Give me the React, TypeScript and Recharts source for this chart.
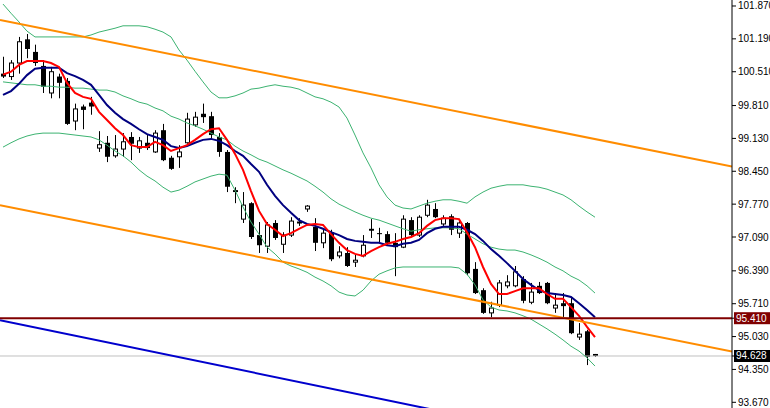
import React from 'react';
import { ComposedChart, Bar, Line, XAxis, YAxis, ReferenceLine } from 'recharts';

const opens = [100.47,100.41,100.69,101.18,100.92,100.63,100.07,100.41,100.32,99.49,
99.79,99.87,98.93,99.04,98.77,98.91,99.16,98.93,99.04,98.85,
99.30,98.73,98.75,99.04,99.41,99.64,99.59,99.16,98.85,98.06,
97.46,97.79,97.13,96.90,97.38,96.94,97.13,97.38,97.67,97.30,
96.97,97.19,96.70,96.76,96.57,96.70,97.26,97.17,97.15,96.97,
96.88,97.44,97.13,97.54,97.67,97.36,97.52,97.17,97.38,96.43,
95.99,95.52,95.68,96.08,96.08,96.22,95.74,96.08,96.14,95.62,
95.72,95.72,95.02,95.14,94.67];

const highs = [100.82,100.75,101.23,101.29,101.07,100.75,100.61,100.47,100.38,99.85,
99.83,99.99,99.28,99.18,99.20,99.24,99.26,99.16,99.20,99.30,
99.43,98.77,98.99,99.66,99.68,99.85,99.68,99.24,98.89,98.12,
98.02,97.81,97.40,97.40,97.44,97.19,97.50,97.48,97.75,97.48,
97.24,97.24,96.90,96.88,96.72,97.13,97.46,97.28,97.21,97.17,
97.54,97.50,97.54,97.86,97.79,97.54,97.56,97.42,97.40,96.57,
96.03,95.75,96.20,96.30,96.49,96.28,96.14,96.16,96.16,95.93,
95.93,95.83,95.31,95.17,94.67];

const lows = [100.38,100.34,100.47,100.79,100.63,100.07,99.96,99.96,99.41,99.30,
99.32,99.62,98.85,98.64,98.73,98.75,98.68,98.83,98.89,98.83,
98.66,98.48,98.52,99.02,99.37,99.45,99.10,98.75,98.02,97.79,
97.38,97.05,96.76,96.76,97.03,96.76,97.09,97.32,97.61,96.80,
96.86,96.59,96.65,96.47,96.47,96.67,97.07,96.97,96.92,96.28,
96.86,97.09,97.09,97.50,97.48,97.32,97.13,97.07,96.30,95.91,
95.50,95.43,95.64,96.03,96.05,95.72,95.70,95.91,95.70,95.52,
95.41,95.08,94.96,94.44,94.61];

const closes = [100.41,100.69,101.13,100.98,100.69,100.20,100.51,100.28,99.43,99.74,
99.72,99.79,99.00,98.75,98.91,99.06,99.02,99.08,98.93,99.24,
98.68,98.50,98.85,99.53,99.57,99.57,99.20,98.85,98.13,98.02,
97.75,97.09,96.92,97.34,97.07,97.13,97.42,97.40,97.73,96.97,
97.17,96.63,96.78,96.49,96.61,96.92,97.22,97.15,96.97,96.88,
97.46,97.13,97.50,97.75,97.50,97.48,97.24,97.38,96.34,95.93,
95.52,95.62,96.14,96.16,96.37,95.77,95.95,95.93,95.72,95.68,
95.66,95.10,95.08,94.61,94.628];

const maFast = [100.45,100.51,100.65,100.73,100.73,100.73,100.69,100.61,100.28,100.07,
99.99,99.95,99.68,99.51,99.34,99.20,98.99,98.95,98.95,99.06,
98.99,98.87,98.93,98.99,99.10,99.22,99.32,99.34,99.10,98.81,
98.48,98.04,97.63,97.36,97.24,97.11,97.17,97.26,97.34,97.36,
97.34,97.15,96.97,96.82,96.74,96.70,96.80,96.88,96.95,96.99,
97.05,97.09,97.17,97.32,97.44,97.48,97.48,97.46,97.19,96.88,
96.47,96.12,95.91,95.91,95.97,96.03,96.03,96.03,95.91,95.81,
95.81,95.64,95.46,95.23,95.02];

const maSlow = [100.03,100.11,100.26,100.44,100.57,100.59,100.59,100.59,100.48,100.42,
100.34,100.24,100.03,99.82,99.66,99.53,99.43,99.32,99.22,99.16,
99.10,98.97,98.93,98.97,99.04,99.10,99.12,99.08,98.99,98.87,
98.77,98.60,98.44,98.17,97.94,97.75,97.59,97.44,97.36,97.32,
97.26,97.19,97.13,97.05,97.01,96.99,96.97,96.97,96.92,96.90,
96.95,96.97,97.03,97.17,97.26,97.30,97.30,97.30,97.24,97.15,
97.01,96.84,96.70,96.55,96.39,96.22,96.10,95.99,95.93,95.91,
95.89,95.85,95.72,95.58,95.43];

const bbUpper = [101.91,101.72,101.54,101.35,101.23,101.23,101.23,101.23,101.23,101.23,
101.23,101.27,101.33,101.37,101.41,101.46,101.46,101.46,101.44,101.39,
101.33,101.23,100.96,100.75,100.52,100.30,100.09,99.97,99.97,100.01,
100.07,100.15,100.17,100.21,100.24,100.21,100.19,100.15,100.07,99.99,
99.95,99.88,99.78,99.55,99.20,98.83,98.52,98.17,97.92,97.75,
97.69,97.67,97.73,97.79,97.83,97.86,97.86,97.83,97.79,97.92,
98.02,98.10,98.14,98.17,98.17,98.17,98.14,98.12,98.08,98.02,
97.96,97.86,97.73,97.61,97.50];

const bbMiddle = [100.30,100.28,100.26,100.24,100.24,100.21,100.21,100.19,100.19,100.17,
100.17,100.15,100.13,100.13,100.09,100.01,99.95,99.88,99.84,99.76,
99.70,99.59,99.53,99.45,99.39,99.32,99.24,99.16,99.10,98.97,
98.87,98.79,98.70,98.64,98.56,98.48,98.41,98.33,98.25,98.14,
98.02,97.88,97.77,97.69,97.61,97.54,97.48,97.44,97.38,97.32,
97.26,97.21,97.24,97.26,97.28,97.28,97.28,97.26,97.15,97.05,
96.95,96.88,96.84,96.82,96.82,96.78,96.72,96.65,96.57,96.47,
96.39,96.28,96.20,96.08,95.93];

const bbLower = [98.95,99.04,99.12,99.18,99.22,99.24,99.24,99.24,99.22,99.20,
99.18,99.16,99.10,98.99,98.87,98.77,98.64,98.48,98.35,98.25,
98.12,98.02,98.06,98.14,98.23,98.29,98.35,98.39,98.37,98.06,
97.71,97.40,97.15,96.88,96.74,96.57,96.49,96.43,96.36,96.26,
96.18,96.08,95.95,95.89,95.87,95.99,96.18,96.32,96.39,96.45,
96.47,96.47,96.47,96.47,96.47,96.47,96.47,96.45,96.32,96.10,
95.79,95.64,95.58,95.56,95.52,95.46,95.39,95.29,95.19,95.08,
94.96,94.83,94.73,94.59,94.42];

const priceTicks = [101.87, 101.19, 100.51, 99.81, 99.13, 98.45, 97.77, 97.09, 96.39, 95.71, 95.03, 94.35, 93.67];
const levelPrice = 95.41;
const lastPrice = 94.628;

const upperChannel = [{ x: -0.375, y: 101.58 }, { x: 91.125, y: 98.55 }];
const lowerChannel = [{ x: -0.375, y: 97.75 }, { x: 91.125, y: 94.72 }];
const blueTrend = [{ x: -0.375, y: 95.37 }, { x: 62.125, y: 93.23 }];

const data = opens.map((o, i) => ({
  i,
  open: o,
  high: highs[i],
  low: lows[i],
  close: closes[i],
  range: [lows[i], highs[i]],
  maFast: maFast[i],
  maSlow: maSlow[i],
  bbUpper: bbUpper[i],
  bbMiddle: bbMiddle[i],
  bbLower: bbLower[i],
}));

const FONT = '"Liberation Sans", Arial, sans-serif';

const Candle = (props: any) => {
  const { x, y, width, height, payload } = props;
  if (!payload || x == null) return null;
  const { open, close, high, low } = payload;
  const top = Math.min(y, y + height);
  const h = Math.abs(height);
  const span = high - low;
  const yOf = (v: number) => (span > 0 ? top + ((high - v) / span) * h : top);
  const center = Math.round(x + width / 2);
  const left = center - 2;
  const wickX = center + 0.5;
  const bull = close > open;
  const yTop = yOf(Math.max(open, close));
  const yBot = yOf(Math.min(open, close));
  const bodyH = Math.max(1, yBot - yTop);
  return (
    <g>
      <line x1={wickX} x2={wickX} y1={top} y2={top + h} stroke="#000" strokeWidth={1} />
      {bull ? (
        <rect x={left + 0.5} y={yTop} width={4} height={Math.max(1, bodyH)} fill="#fff" stroke="#000" strokeWidth={1} />
      ) : (
        <rect x={left} y={yTop} width={5} height={bodyH} fill="#000" />
      )}
    </g>
  );
};

const PriceTick = (props: any) => {
  const { x, y, payload } = props;
  const v = payload.value;
  if (Math.abs(v - levelPrice) < 1e-6) {
    return (
      <g>
        <rect x={x - 4} y={y - 6} width={40} height={12} fill="#800000" />
        <text x={x - 2} y={y} dy={3.5} fill="#fff" fontSize={10} fontFamily={FONT}>{v.toFixed(3)}</text>
      </g>
    );
  }
  if (Math.abs(v - lastPrice) < 1e-6) {
    return (
      <g>
        <rect x={x - 4} y={y - 6} width={40} height={12} fill="#000" />
        <text x={x - 2} y={y} dy={3.5} fill="#fff" fontSize={10} fontFamily={FONT}>{v.toFixed(3)}</text>
      </g>
    );
  }
  return (
    <text x={x} y={y} dy={3.5} fill="#000" fontSize={10} fontFamily={FONT}>{v.toFixed(3)}</text>
  );
};

export default function App() {
  return (
    <div style={{ position: 'absolute', left: 0, top: 0, width: 770, height: 408, background: '#fff' }}>
      <ComposedChart width={770} height={408} data={data} margin={{ top: 0, right: 0, bottom: 0, left: 0 }}>
        <XAxis dataKey="i" type="number" domain={[-0.375, 91.125]} hide allowDataOverflow />
        <YAxis
          orientation="right"
          width={38}
          domain={[93.552, 101.994]}
          allowDataOverflow
          ticks={[...priceTicks, levelPrice, lastPrice]}
          interval={0}
          tickSize={4}
          tickMargin={2}
          axisLine={{ stroke: '#000', strokeWidth: 1 }}
          tickLine={{ stroke: '#000' }}
          tick={<PriceTick />}
        />
        <Bar dataKey="range" barSize={5} shape={<Candle />} isAnimationActive={false} />
        <ReferenceLine y={lastPrice} stroke="#c0c0c0" strokeWidth={1} />
        <Line dataKey="bbUpper" type="linear" stroke="#3cb371" strokeWidth={1} dot={false} activeDot={false} isAnimationActive={false} />
        <Line dataKey="bbMiddle" type="linear" stroke="#3cb371" strokeWidth={1} dot={false} activeDot={false} isAnimationActive={false} />
        <Line dataKey="bbLower" type="linear" stroke="#3cb371" strokeWidth={1} dot={false} activeDot={false} isAnimationActive={false} />
        <Line dataKey="maSlow" type="linear" stroke="#000080" strokeWidth={2} dot={false} activeDot={false} isAnimationActive={false} />
        <Line dataKey="maFast" type="linear" stroke="#ff0000" strokeWidth={2} dot={false} activeDot={false} isAnimationActive={false} />
        <ReferenceLine segment={upperChannel} stroke="#ff8c00" strokeWidth={2} ifOverflow="hidden" />
        <ReferenceLine segment={lowerChannel} stroke="#ff8c00" strokeWidth={2} ifOverflow="hidden" />
        <ReferenceLine segment={blueTrend} stroke="#0000cd" strokeWidth={2} ifOverflow="hidden" />
        <ReferenceLine y={levelPrice} stroke="#800000" strokeWidth={2} />
      </ComposedChart>
    </div>
  );
}
